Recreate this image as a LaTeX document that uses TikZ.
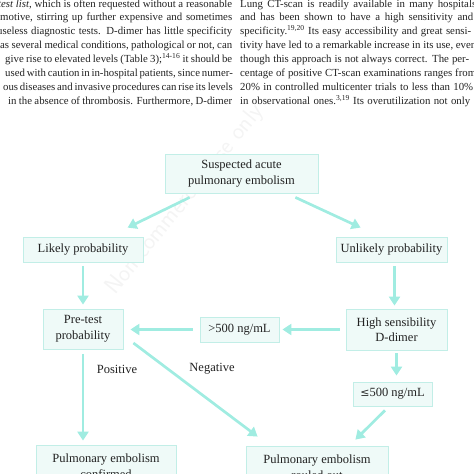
\documentclass[tikz,border=0pt]{standalone}
\usepackage{fontspec}
\setmainfont{Liberation Serif}
\usetikzlibrary{arrows.meta}
\definecolor{boxfill}{HTML}{EFFAF8}
\definecolor{boxline}{HTML}{C2EEE7}
\definecolor{arrowc}{HTML}{A0ECE1}
\definecolor{txt}{HTML}{222222}
\definecolor{wmark}{HTML}{F4F4F4}
\begin{document}
\begin{tikzpicture}[x=1pt,y=-1pt,
  flowbox/.style={draw=boxline, line width=0.8pt, fill=boxfill, inner sep=0pt, align=center, font=\fontsize{12.5}{15.5}\selectfont, text=txt},
  flowarrow/.style={draw=arrowc, line width=2.7pt, -{Triangle[length=9pt,width=11pt]}},
  lbl/.style={font=\fontsize{12.5}{15.5}\selectfont, text=txt, inner sep=0pt},
  bodyline/.style={anchor=base west, inner sep=0pt, font=\fontsize{10.8}{14}\selectfont, text=txt}
]
\useasboundingbox (0,0) rectangle (474,474);
\begin{scope}
\clip (0,0) rectangle (474,474);
% watermark
\node[rotate=51, text=wmark, font=\fontsize{24}{24}\selectfont\sffamily, inner sep=0pt] (wm) at (185,200) {Non-commercial use only};
% left column
\node[bodyline] (l1) at (-2,7) {\makebox[234pt][s]{\textit{test list}, which is often requested without a reasonable}};
\node[bodyline] (l2) at (0,20.9) {\makebox[232pt][s]{motive, stirring up further expensive and sometimes}};
\node[bodyline] (l3) at (-3,34.7) {\makebox[235pt][s]{useless diagnostic tests. D-dimer has little specificity}};
\node[bodyline] (l4) at (0,48.6) {\makebox[232pt][s]{as several medical conditions, pathological or not, can}};
\node[bodyline] (l5) at (5,62.4) {\makebox[227pt][s]{give rise to elevated levels (Table 3);\textsuperscript{14-16} it should be}};
\node[bodyline] (l6) at (5,76.3) {\makebox[227pt][s]{used with caution in in-hospital patients, since numer-}};
\node[bodyline] (l7) at (3,90.2) {\makebox[229pt][s]{ous diseases and invasive procedures can rise its levels}};
\node[bodyline] (l8) at (8,104) {\makebox[224pt][s]{in the absence of thrombosis. Furthermore, D-dimer}};
% right column
\node[bodyline] (r1) at (240,7) {\makebox[236pt][s]{Lung CT-scan is readily available in many hospitals}};
\node[bodyline] (r2) at (240,20.9) {\makebox[233pt][s]{and has been shown to have a high sensitivity and}};
\node[bodyline] (r3) at (240,34.7) {\makebox[231pt][s]{specificity.\textsuperscript{19,20} Its easy accessibility and great sensi-}};
\node[bodyline] (r4) at (240,48.6) {\makebox[236pt][s]{tivity have led to a remarkable increase in its use, even}};
\node[bodyline] (r5) at (240,62.4) {\makebox[229pt][s]{though this approach is not always correct. The per-}};
\node[bodyline] (r6) at (240,76.3) {\makebox[236pt][s]{centage of positive CT-scan examinations ranges from}};
\node[bodyline] (r7) at (240,90.2) {\makebox[233pt][s]{20\% in controlled multicenter trials to less than 10\%}};
\node[bodyline] (r8) at (240,104) {\makebox[230pt][s]{in observational ones.\textsuperscript{3,19} Its overutilization not only}};
% flowchart boxes
\node[flowbox, minimum width=153pt, minimum height=39pt] (top) at (241.5,173.5) {Suspected acute\\pulmonary embolism};
\node[flowbox, minimum width=120pt, minimum height=25pt] (likely) at (83,249.5) {Likely probability};
\node[flowbox, minimum width=111pt, minimum height=25pt] (unlikely) at (391.5,249.5) {Unlikely probability};
\node[flowbox, minimum width=80pt, minimum height=40pt] (pretest) at (83,329) {Pre-test\\probability};
\node[flowbox, minimum width=79pt, minimum height=25pt] (gt500) at (239.5,329.5) {>500 ng/mL};
\node[flowbox, minimum width=101pt, minimum height=41pt] (high) at (396.5,329.5) {High sensibility\\D-dimer};
\node[flowbox, minimum width=79pt, minimum height=24pt] (le500) at (392.5,394) {\fontspec{DejaVu Serif}\fontsize{11}{11}\selectfont≤\fontspec{Liberation Serif}\fontsize{12.5}{15.5}\selectfont500 ng/mL};
\node[flowbox, minimum width=140pt, minimum height=42pt] (confirmed) at (106,466) {Pulmonary embolism\\confirmed};
\node[flowbox, minimum width=142pt, minimum height=42pt] (ruledout) at (317,467) {Pulmonary embolism\\rouled out};
% labels
\node[lbl] (pos) at (117,369) {Positive};
\node[lbl] (neg) at (212,369) {Negative};
% arrows
\draw[flowarrow] ([xshift=25pt,yshift=-4pt]top.south west) -- ([xshift=105pt,yshift=9pt]likely.north west);
\draw[flowarrow] ([xshift=-23pt,yshift=-4pt]top.south east) -- ([xshift=25pt,yshift=9pt]unlikely.north west);
\draw[flowarrow, shorten <=4pt, shorten >=4pt] (likely.south) -- (pretest.north);
\draw[flowarrow, shorten <=4pt, shorten >=3pt] ([xshift=3pt]unlikely.south) -- ([xshift=-2pt]high.north);
\draw[flowarrow, shorten <=6pt, shorten >=3pt] (high.west) -- (gt500.east);
\draw[flowarrow, shorten <=7pt, shorten >=7pt] (gt500.west) -- (gt500.west -| pretest.east);
\draw[flowarrow, shorten <=5pt, shorten >=4pt] (pretest.south) -- (pretest.south |- confirmed.north);
\draw[flowarrow] ([xshift=10pt,yshift=-14pt]pretest.east) -- ([xshift=12pt,yshift=9pt]ruledout.north west);
\draw[flowarrow, shorten <=3pt, shorten >=6pt] (high.south) -- (high.south |- le500.north);
\draw[flowarrow] ([xshift=-7.5pt,yshift=-4pt]le500.south) -- ([xshift=-33pt,yshift=6pt]ruledout.north east);
\end{scope}
\end{tikzpicture}
\end{document}
